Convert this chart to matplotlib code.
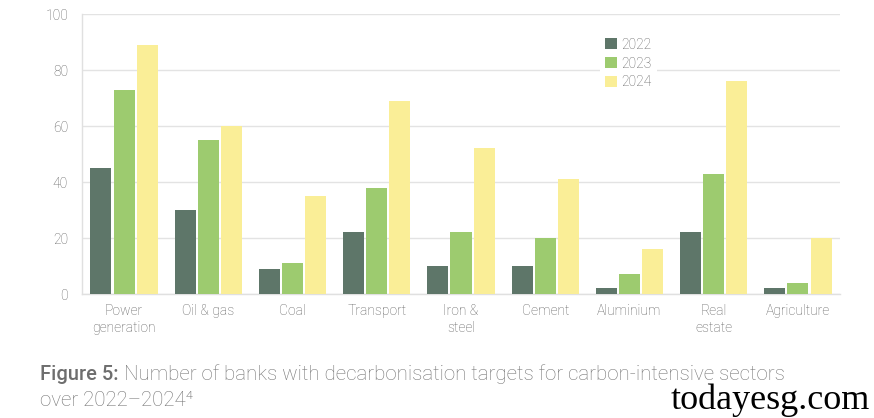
import matplotlib
matplotlib.use("Agg")
import matplotlib.pyplot as plt
import numpy as np

categories = ["Power\ngeneration", "Oil & gas", "Coal", "Transport", "Iron &\nsteel",
              "Cement", "Aluminium", "Real\nestate", "Agriculture"]
years = ["2022", "2023", "2024"]
v2022 = [45, 30, 9, 22, 10, 10, 2, 22, 2]
v2023 = [73, 55, 11, 38, 22, 20, 7, 43, 4]
v2024 = [89, 60, 35, 69, 52, 41, 16, 76, 20]
yticks = [0, 20, 40, 60, 80, 100]

colors = ["#5E7669", "#9DCB6F", "#FAEE97"]
text_col = "#5F5F5F"
plt.rcParams['font.family'] = ['Roboto', 'DejaVu Sans']

fig = plt.figure(figsize=(8.74, 4.18), dpi=100)
ax = fig.add_axes([82/874, 1-294/418, (840-82)/874, (294-14)/418])

x = np.arange(len(categories))
w = 0.25
off = 0.275
for i, (vals, lab) in enumerate(zip([v2022, v2023, v2024], years)):
    ax.bar(x + (i-1)*off, vals, width=w, color=colors[i], label=lab, zorder=3)

ax.set_xlim(-0.5, len(categories)-0.5)
ax.set_ylim(0, 100)
ax.set_yticks(yticks)
ax.yaxis.grid(True, color="#E3E3E3", linewidth=1.0, zorder=0)
ax.set_axisbelow(True)
for s in ["top", "right"]:
    ax.spines[s].set_visible(False)
for s in ["left", "bottom"]:
    ax.spines[s].set_color("#E0E0E0")
    ax.spines[s].set_linewidth(1.0)
ax.tick_params(axis="both", length=0, colors=text_col, labelsize=10)
ax.tick_params(axis="y", pad=10)
ax.tick_params(axis="x", pad=7)
ax.set_xticks(x)
ax.set_xticklabels(categories, linespacing=1.3)
for t in ax.get_xticklabels() + ax.get_yticklabels():
    t.set_fontweight("light")
    t.set_color(text_col)

leg = ax.legend(loc="upper left", bbox_to_anchor=(0.683, 0.935), frameon=True,
                facecolor="white", edgecolor="none", framealpha=1,
                fontsize=10, handlelength=0.85, handleheight=0.85,
                handletextpad=0.3, labelspacing=0.35, borderpad=0.4,
                borderaxespad=0)
leg.get_frame().set_boxstyle("square", pad=0.0)
leg.set_zorder(5)
for t in leg.get_texts():
    t.set_color(text_col)
    t.set_fontweight("light")

fig.text(40/874, 1-374/418, "Figure 5:", fontsize=14.5, color="#6E6E6E",
         fontweight="medium", va="center", ha="left")
fig.text(124/874, 1-374/418, "Number of banks with decarbonisation targets for carbon-intensive sectors",
         fontsize=14.8, color="#757575", fontweight="light", va="center", ha="left")
fig.text(40/874, 1-401/418, "over 2022\u20132024\u2074", fontsize=14.8, color="#757575",
         fontweight="light", va="center", ha="left")
fig.text(870/874, 1-400/418, "todayesg.com", fontsize=26, color="black",
         family="Liberation Serif", va="center", ha="right")

fig.savefig("out.png", dpi=100)
